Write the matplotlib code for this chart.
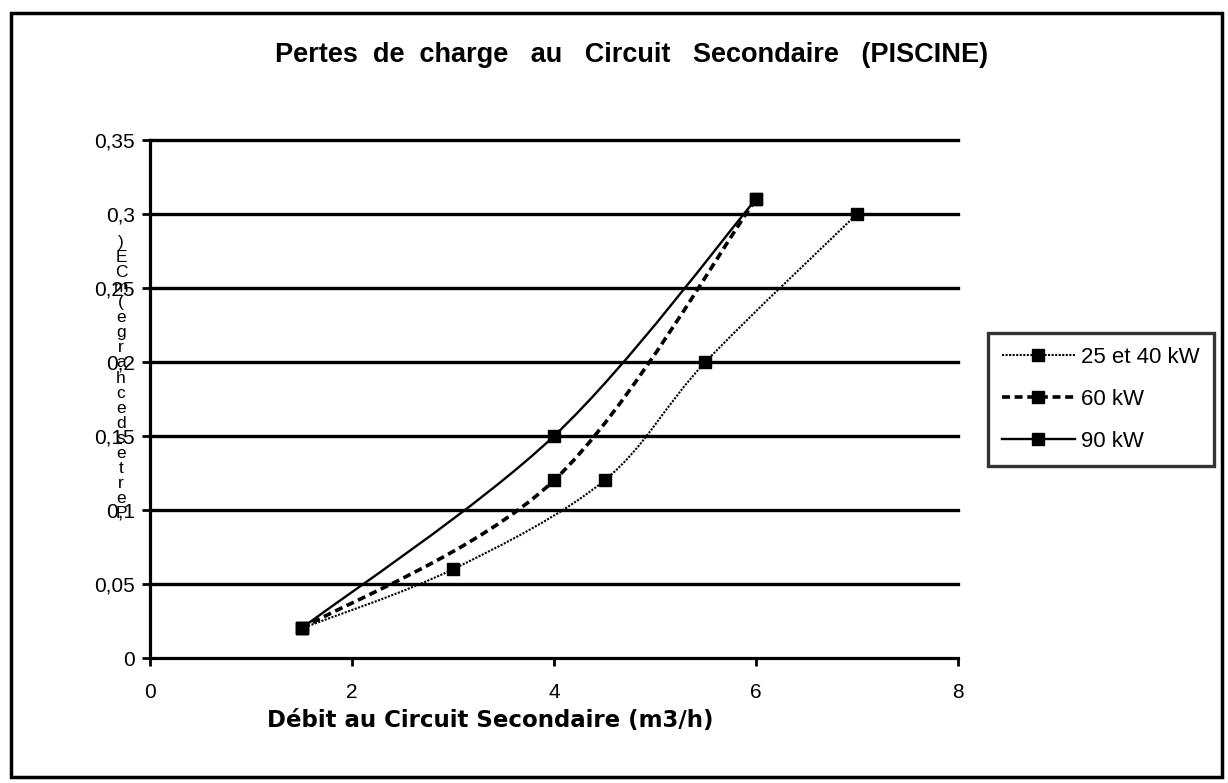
import matplotlib
matplotlib.use("Agg")
import matplotlib.pyplot as plt
from matplotlib.path import Path
from matplotlib.patches import PathPatch, Rectangle
from matplotlib.lines import Line2D
import numpy as np

plt.rcParams['font.family'] = ['Liberation Sans', 'DejaVu Sans']

title = "Pertes  de  charge   au   Circuit   Secondaire   (PISCINE)"
xlabel = "Débit au Circuit Secondaire (m3/h)"
ylabel = "Pertes de charge (mCE)"

names = ["25 et 40 kW", "60 kW", "90 kW"]
x_25_40 = [1.5, 3.0, 4.5, 5.5, 7.0]
y_25_40 = [0.02, 0.06, 0.12, 0.20, 0.30]
x_60 = [1.5, 4.0, 6.0]
y_60 = [0.02, 0.12, 0.31]
x_90 = [1.5, 4.0, 6.0]
y_90 = [0.02, 0.15, 0.31]

xticks = [0, 2, 4, 6, 8]
yticks = [0, 0.05, 0.1, 0.15, 0.2, 0.25, 0.3, 0.35]
yticklabels = ["0", "0,05", "0,1", "0,15", "0,2", "0,25", "0,3", "0,35"]

styles = [
    dict(lw=1.5, dashes=(1.0, 0.7)),
    dict(lw=2.6, dashes=(2.2, 1.3)),
    dict(lw=1.7, dashes=None),
]

W, H = 1228, 783
fig = plt.figure(figsize=(W / 100, H / 100), dpi=100)
ax = fig.add_axes([150 / W, 1 - 658 / H, (958 - 150) / W, (658 - 140) / H])
ax.set_xlim(0, 8)
ax.set_ylim(0, 0.35)
ax.set_xticks(xticks)
ax.set_xticklabels([str(t) for t in xticks])
ax.set_yticks(yticks)
ax.set_yticklabels(yticklabels)
ax.tick_params(axis='both', direction='out', length=6, width=2, labelsize=15, colors='black')
ax.tick_params(axis='x', pad=12)
ax.tick_params(axis='y', pad=5)
for s in ['top', 'right']:
    ax.spines[s].set_visible(False)
for s in ['left', 'bottom']:
    ax.spines[s].set_linewidth(2.3)
for yv in yticks[1:]:
    ax.axhline(yv, color='black', lw=2.4, zorder=1, clip_on=False)


def smooth_path(xs, ys):
    pts = np.column_stack([xs, ys]).astype(float)
    n = len(pts)
    verts = [pts[0]]
    codes = [Path.MOVETO]
    for i in range(n - 1):
        p0 = pts[i - 1] if i > 0 else pts[i]
        p1 = pts[i]
        p2 = pts[i + 1]
        p3 = pts[i + 2] if i + 2 < n else pts[i + 1]
        c1 = p1 + (p2 - p0) / 6.0
        c2 = p2 - (p3 - p1) / 6.0
        verts += [c1, c2, p2]
        codes += [Path.CURVE4] * 3
    return Path(verts, codes)


series = [(x_25_40, y_25_40), (x_60, y_60), (x_90, y_90)]
handles = []
for (xs, ys), st, nm in zip(series, styles, names):
    patch = PathPatch(smooth_path(xs, ys), fill=False, edgecolor='black',
                      lw=st['lw'], transform=ax.transData, zorder=3)
    if st['dashes']:
        patch.set_linestyle((0, st['dashes']))
    ax.add_patch(patch)
    ax.plot(xs, ys, linestyle='none', marker='s', markersize=8,
            color='black', zorder=4, clip_on=False)
    h = Line2D([0], [0], color='black', lw=st['lw'], marker='s', markersize=8)
    if st['dashes']:
        h.set_dashes(st['dashes'])
    handles.append(h)

fig.text(490 / W, 1 - 720 / H, xlabel, ha='center', va='center',
         fontsize=16.5, fontweight='bold', family=['DejaVu Sans'])
fig.text(632 / W, 1 - 55 / H, title, ha='center', va='center',
         fontsize=19.5, fontweight='bold')

# stacked vertical y label (as in reference)
chars = [c for c in ylabel[::-1] if c != ' ']
y0, y1 = 242, 514
for i, c in enumerate(chars):
    yy = y0 + (y1 - y0) * i / (len(chars) - 1)
    fig.text(121 / W, 1 - yy / H, c, ha='center', va='center', fontsize=12.5)

leg = fig.legend(handles, names, loc='upper left',
                 bbox_to_anchor=(988 / W, 1 - 333 / H), frameon=True,
                 fontsize=16, handlelength=3.3, handletextpad=0.27,
                 labelspacing=0.95, borderpad=0.62, borderaxespad=0,
                 fancybox=False)
leg.get_frame().set_edgecolor('black')
leg.get_frame().set_linewidth(2.4)
for t in leg.get_texts():
    t.set_color('black')

fig.patches.append(Rectangle((11 / W, 1 - 777 / H), (1222 - 11) / W, (777 - 13) / H,
                             transform=fig.transFigure, fill=False,
                             edgecolor='black', lw=2.5))

fig.savefig("out.png", dpi=100)
